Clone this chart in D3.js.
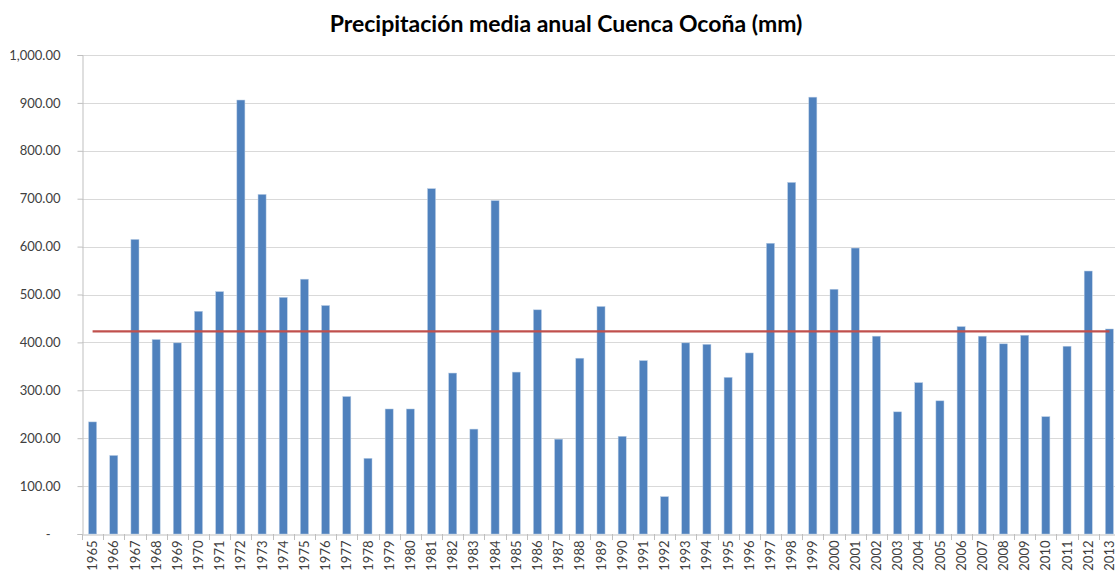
<!DOCTYPE html>
<html>
<head>
<meta charset="utf-8">
<script src="https://cdn.jsdelivr.net/npm/d3@7"></script>
<style>
  body { margin: 0; background: #fff; }
  text { font-family: Lato, "Open Sans", sans-serif; }
</style>
</head>
<body>
<svg id="chart"></svg>
<script>
// Years and annual precipitation (mm)
var anios = d3.range(1965, 2014).map(String);
var precipitacion = [
  234, 164, 615, 406, 399, 465, 506, 906, 709, 494,
  532, 477, 287, 158, 261, 261, 721, 336, 219, 696,
  338, 468, 198, 367, 475, 204, 362, 78, 399, 396,
  327, 378, 607, 734, 912, 511, 597, 413, 255, 316,
  278, 433, 413, 397, 415, 245, 392, 549, 428
];
var yTicks = [0, 100, 200, 300, 400, 500, 600, 700, 800, 900, 1000];
var titulo = "Precipitación media anual Cuenca Ocoña (mm)";

var width = 1115, height = 572;
var margin = { top: 55, right: -5, bottom: 38, left: 82 };

var svg = d3.select("#chart")
    .attr("width", width)
    .attr("height", height);

var data = anios.map(function(a, i) { return { anio: a, valor: precipitacion[i] }; });

// Scales
var x = d3.scaleBand()
    .domain(anios)
    .range([margin.left, width - margin.right])
    .paddingInner(0.62)
    .paddingOuter(0.31);

var y = d3.scaleLinear()
    .domain([0, 1000])
    .range([height - margin.bottom, margin.top]);

var fmt = d3.format(",.2f");

// Title
svg.append("text")
    .attr("x", 566)
    .attr("y", 32)
    .attr("text-anchor", "middle")
    .style("font-size", "23px")
    .style("font-weight", "700")
    .style("fill", "#000")
    .text(titulo);

// Gridlines
svg.append("g")
    .selectAll("line")
    .data(yTicks.filter(d => d > 0))
    .enter().append("line")
    .attr("x1", margin.left)
    .attr("x2", width)
    .attr("y1", d => Math.round(y(d)) + 0.5)
    .attr("y2", d => Math.round(y(d)) + 0.5)
    .style("stroke", "#d9d9d9")
    .style("stroke-width", 1);

// Y axis
var yAxis = svg.append("g")
    .attr("transform", "translate(" + (margin.left + 0.5) + ",0)")
    .call(d3.axisLeft(y)
        .tickValues(yTicks)
        .tickSize(5)
        .tickPadding(17)
        .tickFormat(d => d === 0 ? "-" : fmt(d)));
yAxis.select(".domain").style("stroke", "#bfbfbf");
yAxis.selectAll(".tick line").style("stroke", "#bfbfbf");
yAxis.selectAll(".tick text")
    .style("font-size", "13px")
    .style("fill", "#404040")
    .style("font-family", "Lato, sans-serif");
yAxis.selectAll(".tick text").filter(d => d === 0).attr("dx", -10);

// X axis
var xAxis = svg.append("g")
    .attr("transform", "translate(0," + (y(0) + 0.5) + ")")
    .call(d3.axisBottom(x).tickSize(0).tickPadding(0));
xAxis.select(".domain").style("stroke", "#bfbfbf");
xAxis.selectAll(".tick text")
    .attr("transform", "rotate(-90)")
    .attr("text-anchor", "end")
    .attr("x", -6)
    .attr("y", 0)
    .attr("dy", "0.35em")
    .style("font-size", "13px")
    .style("fill", "#404040")
    .style("font-family", "Lato, sans-serif");

// Tick marks between categories
svg.append("g")
    .selectAll("line")
    .data(d3.range(anios.length + 1))
    .enter().append("line")
    .attr("x1", i => Math.round(margin.left + i * x.step()) + 0.5)
    .attr("x2", i => Math.round(margin.left + i * x.step()) + 0.5)
    .attr("y1", y(0))
    .attr("y2", y(0) + 6)
    .style("stroke", "#bfbfbf");

// Bars
svg.append("g")
    .selectAll("rect")
    .data(data)
    .enter().append("rect")
    .attr("x", d => x(d.anio))
    .attr("y", d => y(d.valor))
    .attr("width", x.bandwidth())
    .attr("height", d => y(0) - y(d.valor))
    .style("fill", "#4f81bd")
    .style("stroke", "#b9cde5")
    .style("stroke-width", 0.5);

// Mean line
var media = d3.mean(precipitacion);
var linea = d3.line()
    .x(d => x(d) + x.bandwidth() / 2)
    .y(() => y(media));
svg.append("path")
    .datum([anios[0], anios[anios.length - 1]])
    .attr("d", linea)
    .style("fill", "none")
    .style("stroke", "#c0504d")
    .style("stroke-width", 2.25);
</script>
</body>
</html>
